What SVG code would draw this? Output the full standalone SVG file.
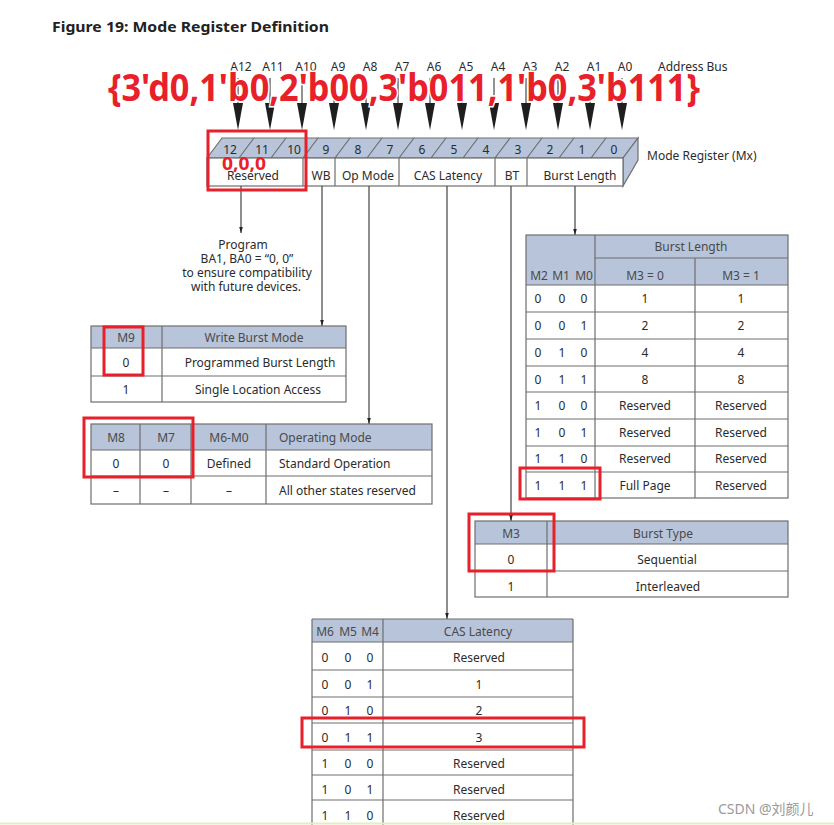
<svg xmlns="http://www.w3.org/2000/svg" width="834" height="825" viewBox="0 0 834 825">
<defs>
<style>
text{font-family:"Noto Sans","Open Sans","Liberation Sans",sans-serif;font-size:12px;fill:#2b2b2b}
.c{text-anchor:middle}
.h{fill:#4a4a4a}
.grid{stroke:#6e6e6e;stroke-width:1.2;fill:none}
.hdr{fill:#b8c4d9}
.conn{stroke:#444;stroke-width:1.2;fill:none}
.red{stroke:#e8202a;stroke-width:3;fill:none}
.bus{stroke:#222;stroke-width:1}
</style>
<marker id="ah" viewBox="0 0 6 10" refX="3" refY="10" markerWidth="6" markerHeight="10" markerUnits="userSpaceOnUse" orient="auto-start-reverse">
<path d="M0,0 L6,0 L3,10 Z" fill="#222"/>
</marker>
<marker id="sa" viewBox="0 0 6 10" refX="10" refY="3" markerWidth="10" markerHeight="6" markerUnits="userSpaceOnUse" orient="auto">
<path d="M0,0 L10,3 L0,6 Z" fill="#222"/>
</marker>
</defs>
<rect width="834" height="825" fill="#fff"/>
<text x="52" y="32" style="font-size:15px;font-weight:bold;fill:#222" textLength="277" lengthAdjust="spacingAndGlyphs">Figure 19: Mode Register Definition</text>

<g id="address-bus">
<g class="c">
<text x="241" y="71">A12</text><text x="273" y="71">A11</text><text x="306" y="71">A10</text><text x="338" y="71">A9</text><text x="370" y="71">A8</text><text x="402" y="71">A7</text><text x="434" y="71">A6</text><text x="466" y="71">A5</text><text x="498" y="71">A4</text><text x="530" y="71">A3</text><text x="562" y="71">A2</text><text x="594" y="71">A1</text><text x="625" y="71">A0</text>
</g>
<text x="658" y="71">Address Bus</text>
<g id="bus-arrows">
<path class="bus" d="M238,78V104M270,78V104M302,78V104M334,78V104M366,78V104M398,78V104M430,78V104M462,78V104M494,78V104M526,78V104M558,78V104M590,78V104M622,78V104"/>
<g fill="#1e1e1e">
<path d="M233,103h10l-5,27z"/><path d="M265,103h10l-5,27z"/><path d="M297,103h10l-5,27z"/><path d="M329,103h10l-5,27z"/><path d="M361,103h10l-5,27z"/><path d="M393,103h10l-5,27z"/><path d="M425,103h10l-5,27z"/><path d="M457,103h10l-5,27z"/><path d="M489,103h10l-5,27z"/><path d="M521,103h10l-5,27z"/><path d="M553,103h10l-5,27z"/><path d="M585,103h10l-5,27z"/><path d="M617,103h10l-5,27z"/>
</g>
</g>
</g>

<g id="mode-register">
<polygon points="207,158 222,138 638,138 623,158" class="hdr" stroke="#6e6e6e" stroke-width="1.2"/>
<polygon points="623,158 638,138 638,160 623,186" class="hdr" stroke="#6e6e6e" stroke-width="1.2"/>
<rect x="207" y="158" width="416" height="28" fill="#fff" stroke="#6e6e6e" stroke-width="1.2"/>
<path class="grid" d="M239,158l15,-20M271,158l15,-20M303,158l15,-20M335,158l15,-20M367,158l15,-20M399,158l15,-20M431,158l15,-20M463,158l15,-20M495,158l15,-20M527,158l15,-20M559,158l15,-20M591,158l15,-20"/>
<path class="grid" d="M303,158V186M335,158V186M399,158V186M495,158V186M527,158V186"/>
<g class="c h">
<text x="230" y="154">12</text><text x="262" y="154">11</text><text x="294" y="154">10</text><text x="326" y="154">9</text><text x="358" y="154">8</text><text x="390" y="154">7</text><text x="422" y="154">6</text><text x="454" y="154">5</text><text x="486" y="154">4</text><text x="518" y="154">3</text><text x="550" y="154">2</text><text x="582" y="154">1</text><text x="614" y="154">0</text>
</g>
<g class="c">
<text x="253" y="180">Reserved</text><text x="321" y="180">WB</text><text x="368" y="180">Op Mode</text><text x="448" y="180">CAS Latency</text><text x="512" y="180">BT</text><text x="580" y="180">Burst Length</text>
</g>
<text x="647" y="160">Mode Register (Mx)</text>
</g>

<g id="connectors">
<path class="conn" d="M241,186V233" marker-end="url(#sa)"/>
<path class="conn" d="M322,186V326" marker-end="url(#sa)"/>
<path class="conn" d="M369,186V424" marker-end="url(#sa)"/>
<path class="conn" d="M447,186V619" marker-end="url(#sa)"/>
<path class="conn" d="M511,186V521" marker-end="url(#sa)"/>
<path class="conn" d="M575,186V235" marker-end="url(#sa)"/>
</g>

<g id="note" class="c">
<text x="243" y="249">Program</text>
<text x="247" y="263">BA1, BA0 = “0, 0”</text>
<text x="247" y="277">to ensure compatibility</text>
<text x="246" y="291">with future devices.</text>
</g>

<g id="write-burst-table">
<rect x="91" y="326" width="255" height="22" class="hdr"/>
<rect x="91" y="326" width="255" height="76" class="grid"/>
<path class="grid" d="M91,348H346M91,376H346M162,326V402"/>
<g class="c">
<text x="126" y="342" class="h">M9</text><text x="254" y="342" class="h">Write Burst Mode</text>
<text x="126" y="367">0</text><text x="260" y="367">Programmed Burst Length</text>
<text x="126" y="394">1</text><text x="258" y="394">Single Location Access</text>
</g>
</g>

<g id="op-mode-table">
<rect x="91" y="424" width="341" height="26" class="hdr"/>
<rect x="91" y="424" width="341" height="80" class="grid"/>
<path class="grid" d="M91,450H432M91,476H432M140,424V504M191,424V504M266,424V504"/>
<g class="c">
<text x="116" y="442" class="h">M8</text><text x="166" y="442" class="h">M7</text><text x="229" y="442" class="h">M6-M0</text>
<text x="116" y="468">0</text><text x="166" y="468">0</text><text x="229" y="468">Defined</text>
<text x="116" y="495">–</text><text x="166" y="495">–</text><text x="229" y="495">–</text>
</g>
<text x="279" y="442" class="h">Operating Mode</text>
<text x="279" y="468">Standard Operation</text>
<text x="279" y="495">All other states reserved</text>
</g>

<g id="burst-length-table">
<rect x="526" y="235" width="262" height="50" class="hdr"/>
<rect x="526" y="235" width="262" height="263" class="grid"/>
<path class="grid" d="M595,258H788M526,285H788M526,312H788M526,339H788M526,366H788M526,392H788M526,419H788M526,446H788M526,472H788M595,235V498M695,258V498"/>
<g class="c">
<text x="691" y="251" class="h">Burst Length</text>
<text x="539" y="280" class="h">M2</text><text x="561" y="280" class="h">M1</text><text x="584" y="280" class="h">M0</text>
<text x="645" y="280" class="h">M3 = 0</text><text x="741" y="280" class="h">M3 = 1</text>
<text x="538" y="303">0</text><text x="562" y="303">0</text><text x="584" y="303">0</text><text x="645" y="303">1</text><text x="741" y="303">1</text>
<text x="538" y="330">0</text><text x="562" y="330">0</text><text x="584" y="330">1</text><text x="645" y="330">2</text><text x="741" y="330">2</text>
<text x="538" y="357">0</text><text x="562" y="357">1</text><text x="584" y="357">0</text><text x="645" y="357">4</text><text x="741" y="357">4</text>
<text x="538" y="384">0</text><text x="562" y="384">1</text><text x="584" y="384">1</text><text x="645" y="384">8</text><text x="741" y="384">8</text>
<text x="538" y="410">1</text><text x="562" y="410">0</text><text x="584" y="410">0</text><text x="645" y="410">Reserved</text><text x="741" y="410">Reserved</text>
<text x="538" y="437">1</text><text x="562" y="437">0</text><text x="584" y="437">1</text><text x="645" y="437">Reserved</text><text x="741" y="437">Reserved</text>
<text x="538" y="463">1</text><text x="562" y="463">1</text><text x="584" y="463">0</text><text x="645" y="463">Reserved</text><text x="741" y="463">Reserved</text>
<text x="538" y="490">1</text><text x="562" y="490">1</text><text x="584" y="490">1</text><text x="645" y="490">Full Page</text><text x="741" y="490">Reserved</text>
</g>
</g>

<g id="burst-type-table">
<rect x="475" y="521" width="313" height="23" class="hdr"/>
<rect x="475" y="521" width="313" height="76" class="grid"/>
<path class="grid" d="M475,544H788M475,571H788M547,521V597"/>
<g class="c">
<text x="511" y="538" class="h">M3</text><text x="663" y="538" class="h">Burst Type</text>
<text x="511" y="564">0</text><text x="667" y="564">Sequential</text>
<text x="511" y="591">1</text><text x="668" y="591">Interleaved</text>
</g>
</g>

<g id="cas-latency-table">
<rect x="312" y="619" width="261" height="23" class="hdr"/>
<path class="grid" d="M312,619H573M312,642H573M312,670H573M312,697H573M312,723H573M312,750H573M312,775H573M312,800H573M312,619V826M573,619V826M383,619V826"/>
<g class="c">
<text x="325" y="636" class="h">M6</text><text x="348" y="636" class="h">M5</text><text x="370" y="636" class="h">M4</text><text x="478" y="636" class="h">CAS Latency</text>
<text x="325" y="662">0</text><text x="348" y="662">0</text><text x="370" y="662">0</text><text x="479" y="662">Reserved</text>
<text x="325" y="689">0</text><text x="348" y="689">0</text><text x="370" y="689">1</text><text x="479" y="689">1</text>
<text x="325" y="715">0</text><text x="348" y="715">1</text><text x="370" y="715">0</text><text x="479" y="715">2</text>
<text x="325" y="742">0</text><text x="348" y="742">1</text><text x="370" y="742">1</text><text x="479" y="742">3</text>
<text x="325" y="768">1</text><text x="348" y="768">0</text><text x="370" y="768">0</text><text x="479" y="768">Reserved</text>
<text x="325" y="794">1</text><text x="348" y="794">0</text><text x="370" y="794">1</text><text x="479" y="794">Reserved</text>
<text x="325" y="820">1</text><text x="348" y="820">1</text><text x="370" y="820">0</text><text x="479" y="820">Reserved</text>
</g>
</g>

<g id="annotations">
<rect class="red" x="208" y="131" width="98" height="59"/>
<rect class="red" x="104" y="327" width="39" height="48"/>
<rect class="red" x="84" y="418" width="109" height="59"/>
<rect class="red" x="520" y="468" width="80" height="31"/>
<rect class="red" x="469" y="514" width="85" height="57"/>
<rect class="red" x="302" y="718" width="282" height="29"/>
<text x="222" y="170" style="font-size:17px;font-weight:bold;fill:#e8202a" textLength="44" lengthAdjust="spacingAndGlyphs">0,0,0</text>
<text x="108" y="101" style="font-size:38px;font-weight:bold;fill:#e8202a;stroke:#fff;stroke-width:3;paint-order:stroke" textLength="592" lengthAdjust="spacingAndGlyphs">{3'd0,1'b0,2'b00,3'b011,1'b0,3'b111}</text>
</g>

<text x="718" y="814" style="font-size:14px;fill:#9a9a9a;font-family:'Noto Sans','Noto Sans CJK SC',sans-serif">CSDN @刘颜儿</text>
<line x1="0" y1="823.5" x2="834" y2="823.5" stroke="#e4efbf" stroke-width="2"/>
</svg>
